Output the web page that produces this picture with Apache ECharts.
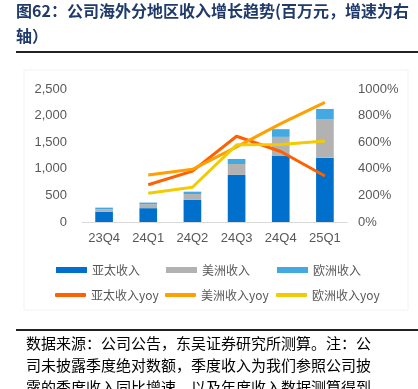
<!DOCTYPE html>
<html><head><meta charset="utf-8">
<script src="https://cdn.jsdelivr.net/npm/echarts@6/dist/echarts.min.js"></script>
<style>html,body{margin:0;padding:0;background:#fff;}#c{width:418px;height:389px;}</style>
</head><body><div id="c"></div>
<script>
const categories = ['23Q4','24Q1','24Q2','24Q3','24Q4','25Q1'];
const asiaRev = [190, 260, 415, 885, 1240, 1210];
const americaRev = [50, 75, 110, 205, 360, 725];
const europeRev = [30, 30, 45, 95, 145, 190];
const asiaYoy = [null, 280, 383, 645, 530, 346];
const americaYoy = [null, 353, 396, 565, 740, 900];
const europeYoy = [null, 216, 261, 580, 582, 609];
const leftTicks = [0, 500, 1000, 1500, 2000, 2500];
const rightTicks = [0, 200, 400, 600, 800, 1000];

const chart = echarts.init(document.getElementById('c'));
const labelFont = {color:'#595959', fontSize:13, fontFamily:'Liberation Sans, Arial, sans-serif'};
const legendText = {color:'#595959', fontSize:12, fontFamily:'Noto Sans CJK SC, sans-serif'};
function lg(name, left, top, isLine){
  return {data:[name], left:left, top:top, itemWidth:31, itemHeight:isLine?4:6, itemGap:0,
    textStyle:legendText, selectedMode:false, icon: isLine ? 'roundRect' : 'rect', padding:0,
    itemStyle:{borderWidth:0}, lineStyle: isLine ? {width:0} : undefined};
}
const titleFont = 'bold 16px "Noto Sans CJK SC", sans-serif';
const srcFont = '15px "Noto Sans CJK SC", sans-serif';
chart.setOption({
  animation:false,
  grid:{left:82, right:71, top:89, bottom:167},
  xAxis:{type:'category', data:categories, axisTick:{show:false},
    axisLine:{lineStyle:{color:'#d9d9d9', width:1}}, axisLabel:Object.assign({margin:10}, labelFont)},
  yAxis:[
    {type:'value', min:leftTicks[0], max:leftTicks[leftTicks.length-1], interval:500, splitLine:{show:false},
      axisLine:{show:false}, axisTick:{show:false},
      axisLabel:Object.assign({margin:15, formatter:v=>v.toLocaleString('en-US')}, labelFont)},
    {type:'value', min:rightTicks[0], max:rightTicks[rightTicks.length-1], interval:200, splitLine:{show:false},
      axisLine:{show:false}, axisTick:{show:false},
      axisLabel:Object.assign({margin:11, formatter:v=>String(v)+'%'}, labelFont)}
  ],
  legend:[
    lg('亚太收入', 56, 264, false), lg('美洲收入', 166, 264, false), lg('欧洲收入', 277, 264, false),
    lg('亚太收入yoy', 55, 289, true), lg('美洲收入yoy', 165, 289, true), lg('欧洲收入yoy', 276, 289, true)
  ],
  series:[
    {name:'亚太收入', type:'bar', stack:'r', data:asiaRev, barWidth:'40%', itemStyle:{color:'#0070CC'}},
    {name:'美洲收入', type:'bar', stack:'r', data:americaRev, itemStyle:{color:'#B2B2B2'}},
    {name:'欧洲收入', type:'bar', stack:'r', data:europeRev, itemStyle:{color:'#45A9E1'}},
    {name:'亚太收入yoy', type:'line', yAxisIndex:1, data:asiaYoy, showSymbol:false, symbol:'none',
      lineStyle:{color:'#FF6000', width:3}, itemStyle:{color:'#FF6000'}},
    {name:'美洲收入yoy', type:'line', yAxisIndex:1, data:americaYoy, showSymbol:false, symbol:'none',
      lineStyle:{color:'#FFA000', width:3}, itemStyle:{color:'#FFA000'}},
    {name:'欧洲收入yoy', type:'line', yAxisIndex:1, data:europeYoy, showSymbol:false, symbol:'none',
      lineStyle:{color:'#F2CC00', width:3}, itemStyle:{color:'#F2CC00'}}
  ],
  graphic:[
    {type:'text', left:16, top:3, style:{text:'图62：公司海外分地区收入增长趋势(百万元，增速为右', font:titleFont, fill:'#1F3A6B'}},
    {type:'text', left:16, top:28, style:{text:'轴）', font:titleFont, fill:'#1F3A6B'}},
    {type:'rect', shape:{x:16, y:51, width:402, height:2}, style:{fill:'#222'}},
    {type:'rect', shape:{x:24, y:70, width:384, height:240}, style:{fill:'none', stroke:'#f2f2f2', lineWidth:1}, z:-1},
    {type:'rect', shape:{x:16, y:329, width:402, height:2}, style:{fill:'#222'}},
    {type:'text', left:26, top:336, style:{text:'数据来源：公司公告，东吴证券研究所测算。注：公', font:srcFont, fill:'#000'}},
    {type:'text', left:26, top:358, style:{text:'司未披露季度绝对数额，季度收入为我们参照公司披', font:srcFont, fill:'#000'}},
    {type:'text', left:26, top:380, style:{text:'露的季度收入同比增速，以及年度收入数据测算得到', font:srcFont, fill:'#000'}}
  ]
});
</script></body></html>
